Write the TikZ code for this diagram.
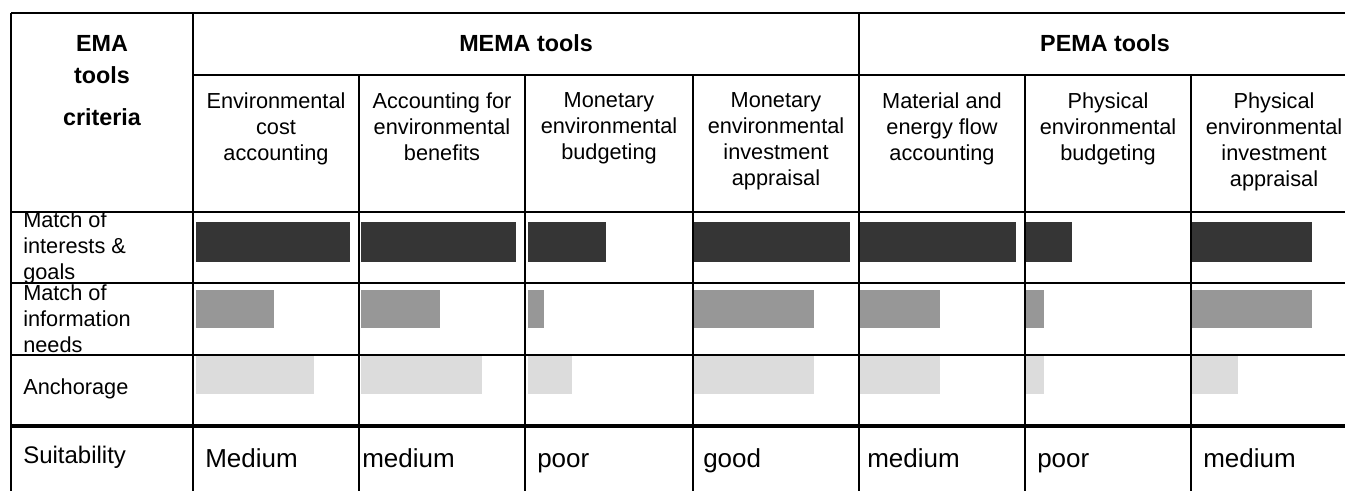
\documentclass[tikz,border=0pt]{standalone}
\usepackage{fontspec}
\setmainfont{Liberation Sans}
\usepackage{tikz}
\usetikzlibrary{positioning}
\definecolor{emadark}{RGB}{53,53,53}
\definecolor{emamid}{RGB}{151,151,151}
\definecolor{emalight}{RGB}{220,220,220}

\begin{document}
\begin{tikzpicture}[x=0.75pt,y=-0.75pt,
  grid/.style={line width=1.7pt},
  thickgrid/.style={line width=3pt},
  headbold/.style={inner sep=0pt,font=\fontsize{17.5}{21}\selectfont\bfseries},
  toolhead/.style={inner sep=0pt,anchor=north,align=center,font=\fontsize{16.3}{19.5}\selectfont},
  rowlab/.style={inner sep=0pt,anchor=west,align=left,font=\fontsize{16.3}{19.5}\selectfont},
  suitval/.style={inner sep=0pt,anchor=base west,font=\fontsize{19.5}{23}\selectfont}]
\useasboundingbox (0,0) rectangle (1345,491);

% Bars
\foreach \s/\a/\b/\c in {196/350/274/314, 361/516/440/482, 528/606/544/572,
  694/850/814/814, 860/1016/940/940, 1026/1072/1044/1044, 1192/1312/1312/1238} {
  \fill[emadark] (\s,222) rectangle (\a,262);
  \fill[emamid] (\s,290) rectangle (\b,328);
  \fill[emalight] (\s,356) rectangle (\c,394);
}

% Table lines
\draw[grid] (11,13) -- (1345,13);
\draw[grid] (11,13) -- (11,491);
\draw[grid] (193,75) -- (1345,75);
\draw[grid] (11,212) -- (1345,212);
\draw[grid] (11,283) -- (1345,283);
\draw[grid] (11,355) -- (1345,355);
\draw[thickgrid] (11,426) -- (1345,426);
\foreach \x in {193,859} \draw[grid] (\x,13) -- (\x,491);
\foreach \x in {359,525,693,1025,1191} \draw[grid] (\x,75) -- (\x,491);

% Header
\node[headbold] (ema) at (102,43) {EMA};
\node[headbold] (tools) at (102,75) {tools};
\node[headbold] (crit) at (102,117) {criteria};
\node[headbold] (mema) at (526,43) {MEMA tools};
\node[headbold] (pema) at (1105,43) {PEMA tools};
\foreach \x/\txt [count=\i] in {276/{Environmental\\cost\\accounting},
  442/{Accounting for\\environmental\\benefits},
  609/{Monetary\\environmental\\budgeting},
  776/{Monetary\\environmental\\investment\\appraisal},
  942/{Material and\\energy flow\\accounting},
  1108/{Physical\\environmental\\budgeting},
  1274/{Physical\\environmental\\investment\\appraisal}}
  \node[toolhead] (tool\i) at (\x,92) {\txt};

% Criteria
\node[rowlab] (goals) at (23,248) {Match of\\interests \&\\goals};
\node[rowlab] (info) at (23,319) {Match of\\information\\needs};
\node[rowlab] (anch) at (23,389) {Anchorage};
\node[rowlab,anchor=base west,font=\fontsize{18}{21}\selectfont] (suit) at (23,463) {Suitability};

% Suitability
\foreach \x/\val [count=\i] in {205/Medium, 362/medium, 537/poor, 703/good,
  867/medium, 1037/poor, 1203/medium}
  \node[suitval] (val\i) at (\x,467) {\val};
\end{tikzpicture}
\end{document}
